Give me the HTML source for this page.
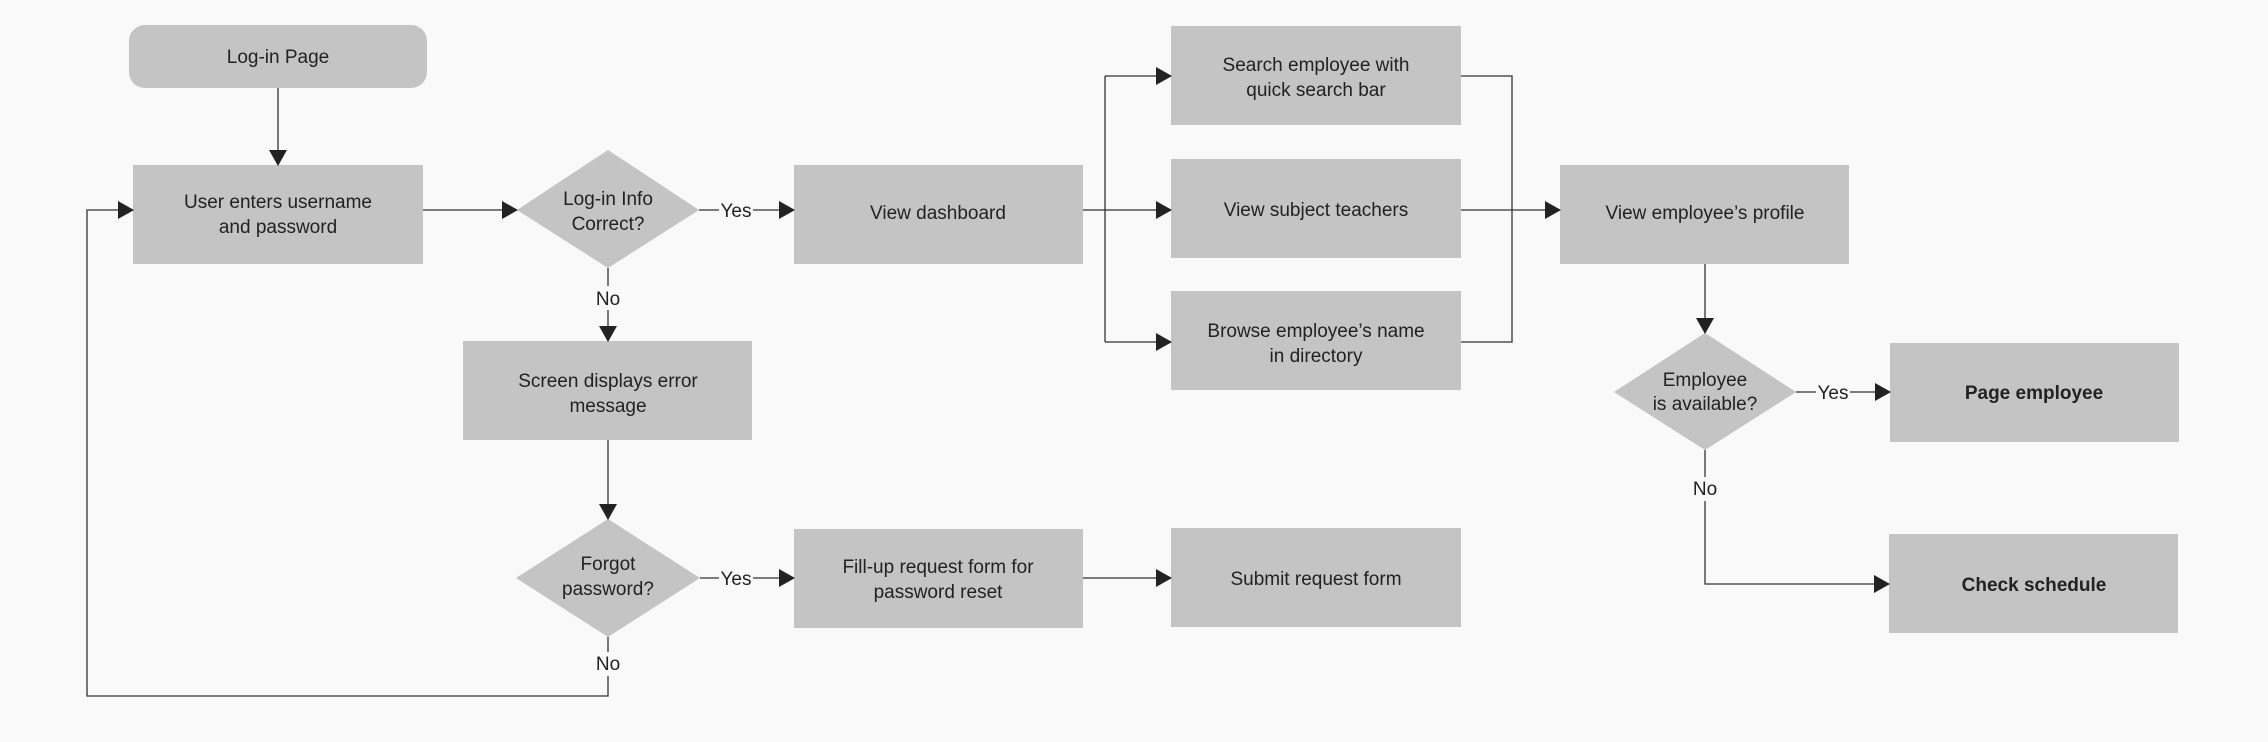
<!DOCTYPE html>
<html><head><meta charset="utf-8"><style>
html,body{margin:0;padding:0;background:#f9f9f9;}
svg{display:block;font-family:"Liberation Sans",sans-serif;}
text{fill:#222;font-size:19px;text-anchor:middle;}
</style></head><body>
<svg width="2268" height="742" viewBox="0 0 2268 742" xmlns="http://www.w3.org/2000/svg">
<defs>
<marker id="a" markerWidth="16" markerHeight="18" refX="15" refY="9" orient="auto" markerUnits="userSpaceOnUse">
<path d="M0,0 L16,9 L0,18 Z" fill="#222"/>
</marker>
</defs>
<rect width="2268" height="742" fill="#f9f9f9"/>
<g fill="#c4c4c4">
<rect x="129" y="25" width="298" height="63" rx="16"/>
<rect x="133" y="165" width="290" height="99"/>
<polygon points="608,150 699,210 608,268 517,210"/>
<rect x="794" y="165" width="289" height="99"/>
<rect x="463" y="341" width="289" height="99"/>
<polygon points="608,519 700,578 608,637 516,578"/>
<rect x="794" y="529" width="289" height="99"/>
<rect x="1171" y="26" width="290" height="99"/>
<rect x="1171" y="159" width="290" height="99"/>
<rect x="1171" y="291" width="290" height="99"/>
<rect x="1171" y="528" width="290" height="99"/>
<rect x="1560" y="165" width="289" height="99"/>
<polygon points="1705,333 1796,392 1705,450 1614,392"/>
<rect x="1890" y="343" width="289" height="99"/>
<rect x="1889" y="534" width="289" height="99"/>
</g>
<g stroke="#333" stroke-width="1.3" fill="none">
<line x1="278" y1="88" x2="278" y2="165" marker-end="url(#a)"/>
<line x1="423" y1="210" x2="517" y2="210" marker-end="url(#a)"/>
<line x1="699" y1="210" x2="794" y2="210" marker-end="url(#a)"/>
<line x1="608" y1="268" x2="608" y2="341" marker-end="url(#a)"/>
<line x1="608" y1="440" x2="608" y2="519" marker-end="url(#a)"/>
<line x1="700" y1="578" x2="794" y2="578" marker-end="url(#a)"/>
<line x1="1083" y1="578" x2="1171" y2="578" marker-end="url(#a)"/>
<polyline points="608,637 608,696 87,696 87,210 133,210" marker-end="url(#a)"/>
<line x1="1083" y1="210" x2="1105" y2="210"/>
<polyline points="1105,76 1105,342"/>
<line x1="1105" y1="76" x2="1171" y2="76" marker-end="url(#a)"/>
<line x1="1105" y1="210" x2="1171" y2="210" marker-end="url(#a)"/>
<line x1="1105" y1="342" x2="1171" y2="342" marker-end="url(#a)"/>
<polyline points="1461,76 1512,76 1512,342 1461,342"/>
<line x1="1461" y1="210" x2="1560" y2="210" marker-end="url(#a)"/>
<line x1="1705" y1="264" x2="1705" y2="333" marker-end="url(#a)"/>
<line x1="1796" y1="392" x2="1890" y2="392" marker-end="url(#a)"/>
<polyline points="1705,450 1705,584 1889,584" marker-end="url(#a)"/>
</g>
<g fill="#f9f9f9">
<rect x="719" y="198" width="34" height="24"/>
<rect x="719" y="566" width="34" height="24"/>
<rect x="1816" y="380" width="34" height="24"/>
<rect x="592" y="286" width="32" height="24"/>
<rect x="592" y="652" width="32" height="24"/>
<rect x="1689" y="477" width="32" height="24"/>
</g>
<text x="278" y="63">Log-in Page</text>
<text x="278" y="208">User enters username</text>
<text x="278" y="233">and password</text>
<text x="608" y="205">Log-in Info</text>
<text x="608" y="230">Correct?</text>
<text x="736" y="217">Yes</text>
<text x="938" y="219">View dashboard</text>
<text x="608" y="305">No</text>
<text x="608" y="387">Screen displays error</text>
<text x="608" y="412">message</text>
<text x="608" y="570">Forgot</text>
<text x="608" y="595">password?</text>
<text x="736" y="585">Yes</text>
<text x="608" y="670">No</text>
<text x="938" y="573">Fill-up request form for</text>
<text x="938" y="598">password reset</text>
<text x="1316" y="71">Search employee with</text>
<text x="1316" y="96">quick search bar</text>
<text x="1316" y="216">View subject teachers</text>
<text x="1316" y="337">Browse employee’s name</text>
<text x="1316" y="362">in directory</text>
<text x="1316" y="585">Submit request form</text>
<text x="1705" y="219">View employee’s profile</text>
<text x="1705" y="386">Employee</text>
<text x="1705" y="410">is available?</text>
<text x="1833" y="399">Yes</text>
<text x="1705" y="495">No</text>
<text x="2034" y="399" font-weight="bold">Page employee</text>
<text x="2034" y="591" font-weight="bold">Check schedule</text>
</svg>
</body></html>
